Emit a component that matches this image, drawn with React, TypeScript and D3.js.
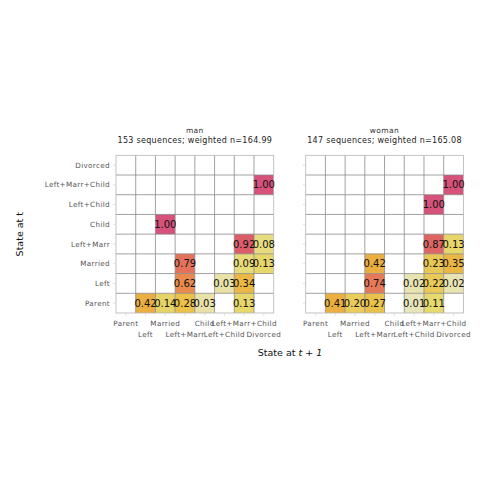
import React from "react";
import * as d3 from "d3";

const states = ["Parent", "Left", "Married", "Left+Marr", "Child", "Left+Child", "Left+Marr+Child", "Divorced"];

// rows = state at t (in states order), columns = state at t+1; 0 = no transition
const manRates: number[][] = [
  [0, 0.42, 0.14, 0.28, 0.03, 0, 0.13, 0],
  [0, 0, 0, 0.62, 0, 0.03, 0.34, 0],
  [0, 0, 0, 0.79, 0, 0, 0.09, 0.13],
  [0, 0, 0, 0, 0, 0, 0.92, 0.08],
  [0, 0, 1.0, 0, 0, 0, 0, 0],
  [0, 0, 0, 0, 0, 0, 0, 0],
  [0, 0, 0, 0, 0, 0, 0, 1.0],
  [0, 0, 0, 0, 0, 0, 0, 0],
];

const womanRates: number[][] = [
  [0, 0.41, 0.2, 0.27, 0, 0.01, 0.11, 0],
  [0, 0, 0, 0.74, 0, 0.02, 0.22, 0.02],
  [0, 0, 0, 0.42, 0, 0, 0.23, 0.35],
  [0, 0, 0, 0, 0, 0, 0.87, 0.13],
  [0, 0, 0, 0, 0, 0, 0, 0],
  [0, 0, 0, 0, 0, 0, 1.0, 0],
  [0, 0, 0, 0, 0, 0, 0, 1.0],
  [0, 0, 0, 0, 0, 0, 0, 0],
];

const panelTitles = ["man", "woman"];
const panelSubtitles = ["153 sequences; weighted n=164.99", "147 sequences; weighted n=165.08"];

const color = d3
  .scaleLinear<string>()
  .domain([0, 0.1, 0.3, 0.45, 0.65, 0.8, 0.92, 1])
  .range(["#e9e6c2", "#e6da70", "#ebbd47", "#ebaa3f", "#e98650", "#e4705d", "#dc5d6a", "#d6527a"])
  .interpolate(d3.interpolateRgb);

const SIZE = 157.7;
const TOP = 155.3;
const LEFTS = [116, 305.7];
const FONT = "DejaVu Sans, sans-serif";

function Panel({ x0, data, title, subtitle, id }: { x0: number; data: number[][]; title: string; subtitle: string; id: string }) {
  const x = d3.scaleBand<string>().domain(states).range([0, SIZE]);
  const y = d3.scaleBand<string>().domain(states).range([SIZE, 0]);
  const bw = x.bandwidth();
  const cells: { from: string; to: string; v: number }[] = [];
  data.forEach((row, i) =>
    row.forEach((v, j) => {
      if (v > 0) cells.push({ from: states[i], to: states[j], v });
    })
  );
  return (
    <g transform={`translate(${x0},${TOP})`}>
      <defs>
        <clipPath id={id}>
          <rect x={0} y={-40} width={SIZE} height={40} />
        </clipPath>
      </defs>
      <g clipPath={`url(#${id})`}>
        <text x={SIZE / 2} y={-22} textAnchor="middle" fontSize={7.5} fill="#333" style={{ letterSpacing: "0.4px" }}>
          {title}
        </text>
        <text x={SIZE / 2} y={-12.5} textAnchor="middle" fontSize={8} fill="#222" style={{ letterSpacing: "0.3px" }}>
          {subtitle}
        </text>
      </g>
      <rect x={0} y={0} width={SIZE} height={SIZE} fill="#fff" />
      {cells.map((c, k) => (
        <rect key={k} x={x(c.to)} y={y(c.from)} width={bw} height={bw} fill={color(c.v)} />
      ))}
      {states.map((s, i) =>
        i === 0 ? null : (
          <g key={s}>
            <line x1={x(s)} x2={x(s)} y1={0} y2={SIZE} stroke="#8a8a8a" strokeWidth={0.8} />
            <line x1={0} x2={SIZE} y1={y(s)! + bw} y2={y(s)! + bw} stroke="#8a8a8a" strokeWidth={0.8} />
          </g>
        )
      )}
      <rect x={0} y={0} width={SIZE} height={SIZE} fill="none" stroke="#b5b5b5" strokeWidth={0.8} />
      {states.map((s) => (
        <g key={"t" + s}>
          <line x1={-3} x2={0} y1={y(s)! + bw / 2} y2={y(s)! + bw / 2} stroke="#ccc" strokeWidth={0.6} />
          <line x1={x(s)! + bw / 2} x2={x(s)! + bw / 2} y1={SIZE} y2={SIZE + 3} stroke="#ccc" strokeWidth={0.6} />
        </g>
      ))}
      {cells.map((c, k) => (
        <text
          key={"l" + k}
          x={x(c.to)! + bw / 2}
          y={y(c.from)! + bw / 2 + 3.6}
          textAnchor="middle"
          fontSize={10}
          fill="#111"
        >
          {c.v.toFixed(2)}
        </text>
      ))}
      {states.map((s, i) => (
        <text
          key={"x" + s}
          x={x(s)! + bw / 2}
          y={SIZE + (i % 2 === 0 ? 13 : 24)}
          textAnchor="middle"
          fontSize={7.2}
          fill="#555"
          style={{ letterSpacing: "0.35px" }}
        >
          {s}
        </text>
      ))}
    </g>
  );
}

export default function App() {
  const y = d3.scaleBand<string>().domain(states).range([SIZE, 0]);
  const bw = y.bandwidth();
  return (
    <svg width={480} height={480} style={{ position: "absolute", left: 0, top: 0, fontFamily: FONT }}>
      <rect width={480} height={480} fill="#fff" />
      <g transform={`translate(0,${TOP})`}>
        {states.map((s) => (
          <text
            key={s}
            x={LEFTS[0] - 6}
            y={y(s)! + bw / 2 + 2.6}
            textAnchor="end"
            fontSize={7.2}
            fill="#555"
            style={{ letterSpacing: "0.35px" }}
          >
            {s}
          </text>
        ))}
      </g>
      {[manRates, womanRates].map((d, i) => (
        <Panel key={i} id={"clip" + i} x0={LEFTS[i]} data={d} title={panelTitles[i]} subtitle={panelSubtitles[i]} />
      ))}
      <text transform={`translate(23,${TOP + SIZE / 2}) rotate(-90)`} textAnchor="middle" fontSize={9.5} fill="#111">
        State at t
      </text>
      <text x={290} y={356} textAnchor="middle" fontSize={9.5} fill="#111">
        State at <tspan fontStyle="italic">t</tspan> + <tspan fontStyle="italic">1</tspan>
      </text>
    </svg>
  );
}
